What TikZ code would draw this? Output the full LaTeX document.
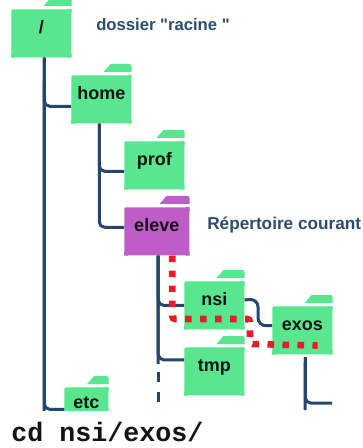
\documentclass[tikz,border=0pt]{standalone}
\usepackage{fontspec}
\newfontfamily\labelfont{Liberation Sans}
\newfontfamily\cmdfont{Liberation Mono}
\definecolor{vert}{RGB}{88,230,143}
\definecolor{violet}{RGB}{190,92,200}
\definecolor{marine}{RGB}{36,71,107}
\definecolor{rouge}{RGB}{227,30,38}
\tikzset{
  folder/.style 2 args={fill=#1,rounded corners=1.5pt,anchor=north west,inner sep=0pt,
    minimum width=45pt,minimum height=36pt,text height=18pt,text depth=18pt,
    font=\fontsize{13.5}{14}\labelfont\bfseries,text=black!92,
    append after command={
      \pgfextra{
        \fill[#1] (\tikzlastnode.north east) rectangle +(-3pt,-3pt)
          (\tikzlastnode.south east) rectangle +(-3pt,3pt)
          (\tikzlastnode.south west) rectangle +(3pt,3pt);
        \fill[#1] ([xshift=-#2,yshift=2.25pt]\tikzlastnode.north east) -- ++(5.25pt,6pt)
          [rounded corners=1.5pt] -- ([yshift=8.25pt]\tikzlastnode.north east)
          [sharp corners] -- ([yshift=2.25pt]\tikzlastnode.north east) -- cycle;
      }
    }},
  branch/.style={line width=2.25pt,color=marine,rounded corners=4pt},
  comment/.style={anchor=west,inner sep=0pt,text=marine!90!gray,
    font=\fontsize{12.9}{14}\labelfont\bfseries},
  route/.style={line width=4.9pt,color=rouge,rounded corners=2pt,
    dash pattern=on 4.9pt off 6.35pt},
}
\begin{document}
\begin{tikzpicture}[x=.75pt,y=-.75pt]
  \clip (0,0) rectangle (362,448);
  \fill[white] (0,0) rectangle (362,448);
  % dossiers
  \node[folder={vert}{21pt}] (root) at (11,9) {/};
  \node[folder={vert}{21pt}] (home) at (71,75) {home};
  \node[folder={vert}{21pt}] (prof) at (124,141) {prof};
  \node[folder={violet}{22.5pt},minimum width=48.75pt] (eleve) at (124,207) {eleve};
  \node[folder={vert}{21pt}] (nsi) at (184,281) {nsi};
  \node[folder={vert}{21pt}] (exos) at (272,306) {exos};
  \node[folder={vert}{21pt}] (tmp) at (184,347) {tmp};
  \node[folder={vert}{16pt},minimum width=33pt,minimum height=18pt,
    text height=15.75pt,text depth=2.25pt] (etc) at (64,387) {etc};
  % bouts libres
  \coordinate (rootend) at (44,411);
  \coordinate (eleveend) at (158,364);
  \coordinate (elevedash) at (158,372);
  \coordinate (elevefin) at (158,402);
  \coordinate (exosend) at (305,410);
  \coordinate (exosfin) at (332,403);
  \coordinate (turn) at (258,299);
  \coordinate (routeA) at (250,319);
  \coordinate (routeB) at (250,344);
  % arbre
  \draw[branch] ([xshift=2.25pt]root.south) -- (rootend);
  \draw[branch] ([xshift=2.25pt]root.south) |- ([yshift=-5.25pt]home.west);
  \draw[branch] ([xshift=2.25pt]root.south) |- ([yshift=-7.5pt]etc.west);
  \draw[branch] ([xshift=-1.5pt]home.south) |- ([yshift=-4.5pt]prof.west);
  \draw[branch] ([xshift=-1.5pt]home.south) |- ([yshift=3pt]eleve.west);
  \draw[branch] ([xshift=1.1pt]eleve.south) -- (eleveend);
  \draw[branch] ([xshift=1.1pt]eleve.south) |- (nsi.west);
  \draw[branch] ([xshift=1.1pt]eleve.south) |- ([yshift=8.6pt]tmp.west);
  \draw[branch,rounded corners=0pt,dash pattern=on 7.5pt off 7.5pt] (elevedash) -- (elevefin);
  \draw[branch,rounded corners=6pt] ([yshift=4pt]nsi.east) -- (turn) |- ([yshift=3.4pt]exos.west);
  \draw[branch] ([xshift=2.25pt,yshift=-2pt]exos.south) -- (exosend);
  \draw[branch] ([xshift=2.25pt,yshift=-2pt]exos.south) |- (exosfin);
  % chemin
  \draw[route] ([xshift=11.6pt]eleve.south) |- (routeA) -- (routeB)
    [rounded corners=6pt] -- ([xshift=11.5pt,yshift=6.75pt]exos.south);
  % textes
  \node[comment,font=\fontsize{12.5}{14}\labelfont\bfseries] (racine) at (96,25) {dossier "racine "};
  \node[comment] (courant) at (207,225) {Répertoire courant};
  \fill[white] (0,411) rectangle (362,448);
  \node[anchor=base west,inner sep=0pt,font=\fontsize{20}{20}\cmdfont\bfseries,text=black!92] (cmd) at (11,441) {cd nsi/exos/};
\end{tikzpicture}
\end{document}
